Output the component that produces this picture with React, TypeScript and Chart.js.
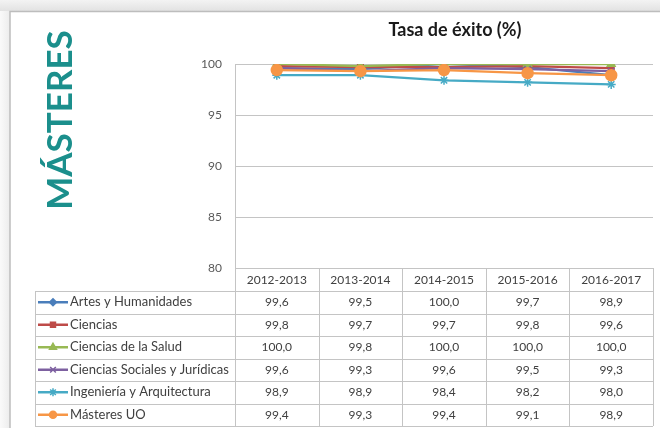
import React, { useEffect, useRef } from "react";
import { Chart, registerables } from "chart.js";
import { drawPoint } from "chart.js/helpers";

Chart.register(...registerables);

const categories = ["2012-2013", "2013-2014", "2014-2015", "2015-2016", "2016-2017"];
const seriesNames = [
  "Artes y Humanidades",
  "Ciencias",
  "Ciencias de la Salud",
  "Ciencias Sociales y Jurídicas",
  "Ingeniería y Arquitectura",
  "Másteres UO",
];
const artes = [99.6, 99.5, 100.0, 99.7, 98.9];
const ciencias = [99.8, 99.7, 99.7, 99.8, 99.6];
const salud = [100.0, 99.8, 100.0, 100.0, 100.0];
const sociales = [99.6, 99.3, 99.6, 99.5, 99.3];
const ingenieria = [98.9, 98.9, 98.4, 98.2, 98.0];
const masteres = [99.4, 99.3, 99.4, 99.1, 98.9];
const yTicks = [80, 85, 90, 95, 100];

const seriesValues = [artes, ciencias, salud, sociales, ingenieria, masteres];
const seriesColors = ["#4a7ebb", "#be4b48", "#98b954", "#7d60a0", "#46aac5", "#f79646"];
const seriesMarkers = ["rectRot", "rect", "triangle", "crossRot", "star", "circle"];
const seriesRadius = [4, 4, 4.5, 4.5, 4.5, 5.5];
const legendRadius = [3.5, 3.5, 4, 4, 4, 3.5];

const FONT = "Lato, 'Open Sans', sans-serif";
const TEXT = "#404040";
const LINE = "#c4c4c4";

const fmt = (v: number) => v.toFixed(1).replace(".", ",");

const decorPlugin = {
  id: "decor",
  beforeDraw(chart: any) {
    const ctx = chart.ctx;
    const W = chart.width;
    const H = chart.height;
    ctx.save();
    ctx.fillStyle = "#ffffff";
    ctx.fillRect(0, 0, W, H);
    const g = ctx.createLinearGradient(0, 0, 0, 11);
    g.addColorStop(0, "#f3f3f3");
    g.addColorStop(1, "#e2e2e2");
    ctx.fillStyle = g;
    ctx.fillRect(0, 0, W, 11);
    const g2 = ctx.createLinearGradient(0, 0, 10, 0);
    g2.addColorStop(0, "#fafafa");
    g2.addColorStop(1, "#ececec");
    ctx.fillStyle = g2;
    ctx.fillRect(0, 11, 10, H - 11);
    ctx.strokeStyle = "#bdbdbd";
    ctx.lineWidth = 1.5;
    ctx.beginPath();
    ctx.moveTo(10, H);
    ctx.lineTo(10, 11.5);
    ctx.lineTo(W, 11.5);
    ctx.stroke();
    ctx.restore();
  },
  afterDraw(chart: any) {
    const ctx = chart.ctx;
    const xs = chart.scales.x;
    const area = chart.chartArea;
    ctx.save();

    // chart title
    ctx.fillStyle = "#1a1a1a";
    ctx.font = `bold 18px ${FONT}`;
    ctx.textAlign = "center";
    ctx.textBaseline = "middle";
    ctx.fillText("Tasa de éxito (%)", 455, 30);

    // vertical section title
    ctx.save();
    ctx.translate(72, 120);
    ctx.rotate(-Math.PI / 2);
    ctx.fillStyle = "#1b8f8c";
    ctx.font = `bold 35px ${FONT}`;
    ctx.textAlign = "center";
    ctx.textBaseline = "alphabetic";
    ctx.fillText("MÁSTERES", 0, 0);
    ctx.restore();

    // data table
    const top = area.bottom;
    const headerBottom = 291;
    const rowH = 22.5;
    const nRows = seriesNames.length;
    const bottom = headerBottom + rowH * nRows;
    const legendLeft = 35;
    const colW = (xs.right - xs.left) / categories.length;

    ctx.strokeStyle = LINE;
    ctx.lineWidth = 1;
    ctx.beginPath();
    for (let k = 0; k <= categories.length; k++) {
      const x = Math.round(xs.left + k * colW) + 0.5;
      ctx.moveTo(x, top);
      ctx.lineTo(x, bottom);
    }
    ctx.moveTo(legendLeft + 0.5, headerBottom);
    ctx.lineTo(legendLeft + 0.5, bottom);
    for (let r = 0; r <= nRows; r++) {
      const y = Math.round(headerBottom + r * rowH) + 0.5;
      ctx.moveTo(legendLeft, y);
      ctx.lineTo(xs.right, y);
    }
    ctx.stroke();

    ctx.textBaseline = "middle";
    for (let r = 0; r < nRows; r++) {
      const cy = headerBottom + r * rowH + rowH / 2;
      ctx.fillStyle = TEXT;
      ctx.textAlign = "center";
      ctx.font = `12px ${FONT}`;
      seriesValues[r].forEach((v, i) => {
        ctx.fillText(fmt(v), xs.getPixelForValue(i), cy);
      });
      // legend key
      ctx.strokeStyle = seriesColors[r];
      ctx.lineWidth = 2.5;
      ctx.beginPath();
      ctx.moveTo(38, cy);
      ctx.lineTo(68, cy);
      ctx.stroke();
      ctx.fillStyle = seriesColors[r];
      ctx.strokeStyle = seriesColors[r];
      ctx.lineWidth = 1.5;
      drawPoint(
        ctx,
        { pointStyle: seriesMarkers[r], rotation: 0, radius: legendRadius[r], borderWidth: 1.5 } as any,
        53,
        cy
      );
      ctx.fillStyle = TEXT;
      ctx.textAlign = "left";
      ctx.font = `13px ${FONT}`;
      ctx.fillText(seriesNames[r], 70, cy);
    }
    ctx.restore();
  },
};

export default function App() {
  const ref = useRef<HTMLCanvasElement | null>(null);

  useEffect(() => {
    if (!ref.current) return;
    const chart = new Chart(ref.current, {
      type: "line",
      data: {
        labels: categories,
        datasets: seriesNames.map((name, i) => ({
          label: name,
          data: seriesValues[i],
          borderColor: seriesColors[i],
          backgroundColor: seriesColors[i],
          borderWidth: 2.25,
          pointStyle: seriesMarkers[i] as any,
          pointRadius: seriesRadius[i],
          pointBorderWidth: 1.5,
          pointBorderColor: seriesColors[i],
          pointBackgroundColor: seriesColors[i],
          tension: 0,
          order: seriesNames.length - i,
        })),
      },
      options: {
        animation: false,
        responsive: false,
        devicePixelRatio: 1,
        layout: { padding: { top: 64, right: 3, left: 0, bottom: 0 } },
        plugins: {
          legend: { display: false },
          title: { display: false },
          tooltip: { enabled: false },
        },
        scales: {
          x: {
            type: "category",
            offset: true,
            grid: { display: false, drawTicks: false },
            border: { display: false },
            ticks: {
              padding: 5,
              color: TEXT,
              font: { family: FONT, size: 12 },
              maxRotation: 0,
              autoSkip: false,
            },
            afterFit: (s: any) => {
              s.height = 160;
            },
          },
          y: {
            min: 80,
            max: 100,
            afterBuildTicks: (s: any) => {
              s.ticks = yTicks.map((v) => ({ value: v }));
            },
            grid: { color: LINE, lineWidth: 1, drawTicks: false },
            border: { display: true, color: LINE, width: 1 },
            ticks: {
              padding: 13,
              color: "#595959",
              font: { family: FONT, size: 12 },
            },
            afterFit: (s: any) => {
              s.width = 235;
            },
          },
        },
      },
      plugins: [decorPlugin],
    });
    return () => chart.destroy();
  }, []);

  return (
    <div style={{ position: "fixed", left: 0, top: 0, width: 660, height: 428 }}>
      <canvas ref={ref} width={660} height={428} style={{ display: "block", width: 660, height: 428 }} />
    </div>
  );
}
